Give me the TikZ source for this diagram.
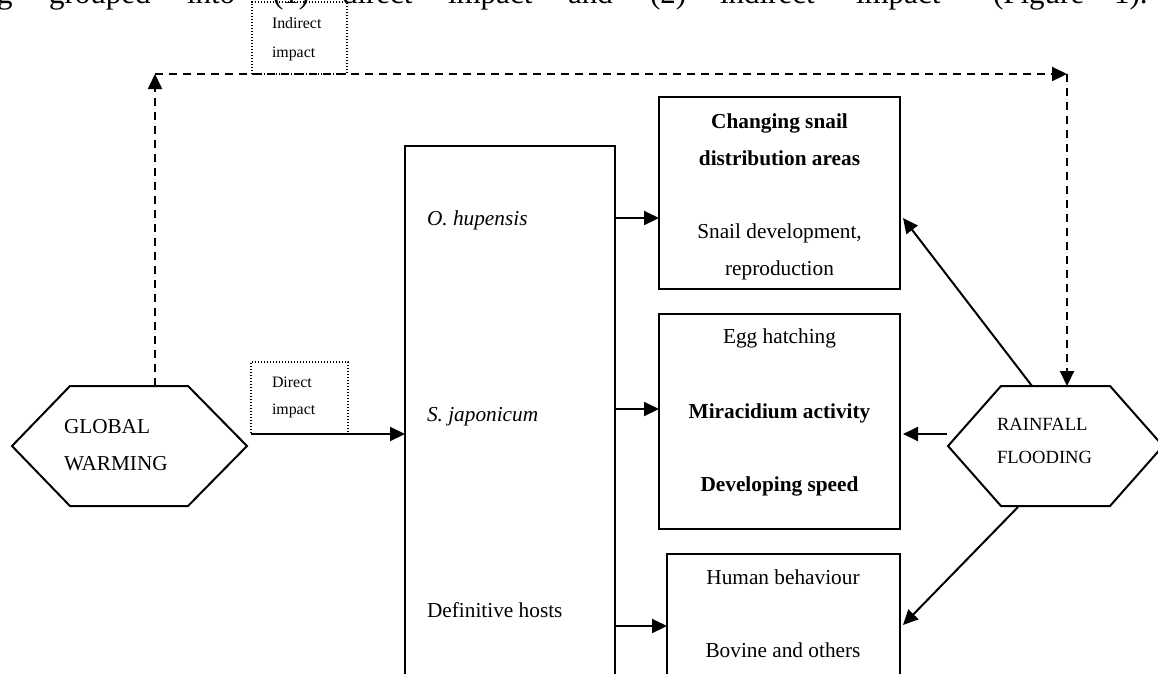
\documentclass[tikz,border=0pt]{standalone}
\usepackage{fontspec}
\setmainfont{Liberation Serif}
\usetikzlibrary{arrows.meta}
\tikzset{
  line/.style={line width=2pt, line join=miter},
  arr/.style={line width=2pt, -{Triangle[length=15pt,width=14pt]}},
  darr/.style={arr, dash pattern=on 8pt off 6pt},
  box/.style={draw, line width=2pt, rectangle, inner sep=0pt, outer sep=0pt},
  dotbox/.style={draw, line width=1.2pt, dash pattern=on 1.3pt off 1.7pt, rectangle, inner sep=0pt, outer sep=0pt},
  txt/.style={inner sep=0pt, outer sep=0pt, font=\fontsize{21.3pt}{26pt}\selectfont},
  btxt/.style={txt, font=\fontsize{21.3pt}{26pt}\selectfont\bfseries},
  itxt/.style={txt, font=\fontsize{21.3pt}{26pt}\selectfont\itshape},
  hextxt/.style={inner sep=0pt, outer sep=0pt, font=\fontsize{21.2pt}{26pt}\selectfont},
  rftxt/.style={inner sep=0pt, outer sep=0pt, font=\fontsize{18.6pt}{22pt}\selectfont},
  smtxt/.style={inner sep=0pt, outer sep=0pt, font=\fontsize{15.9pt}{19pt}\selectfont},
  toptxt/.style={inner sep=0pt, outer sep=0pt, anchor=base west, font=\fontsize{31pt}{35pt}\selectfont},
}
\begin{document}
\begin{tikzpicture}[x=1pt,y=-1pt]
\useasboundingbox (0,0) rectangle (1158,673);
\clip (0,0) rectangle (1158,673);
\fill[white] (0,0) rectangle (1158,673);

% cut-off line of justified body text at the top
\node[toptxt] (top0) at (-27,3) {ing};
\node[toptxt] (top1) at (49,3) {grouped};
\node[toptxt] (top2) at (187,3) {into};
\node[toptxt] (top3) at (273,3) {(1)};
\node[toptxt] (top4) at (342,3) {direct};
\node[toptxt] (top5) at (448,3) {impact};
\node[toptxt] (top6) at (568,3) {and};
\node[toptxt] (top7) at (650,3) {(2)};
\node[toptxt] (top8) at (720,3) {indirect};
\node[toptxt] (top9) at (856,3) {impact};
\node[toptxt] (top10) at (993,3) {(Figure};
\node[toptxt] (top11) at (1114,3) {1).};

% boxes
\node[box, minimum width=210pt, minimum height=574pt] (big) at (510,433) {};
\node[box, minimum width=241pt, minimum height=192pt] (b1) at (779.5,193) {};
\node[box, minimum width=241pt, minimum height=215pt] (b2) at (779.5,421.5) {};
\node[box, minimum width=233pt, minimum height=166pt] (b3) at (783.5,637) {};

% dotted label boxes
\node[dotbox, minimum width=95pt, minimum height=72pt] (ibox) at (299.5,38) {};
\node[dotbox, minimum width=97pt, minimum height=72pt] (dbox) at (299.5,398) {};
\node[smtxt, anchor=base west] (ib1) at (272,28) {Indirect};
\node[smtxt, anchor=base west] (ib2) at (272,57) {impact};
\node[smtxt, anchor=base west] (db1) at (272,387) {Direct};
\node[smtxt, anchor=base west] (db2) at (272,414) {impact};

% hexagons
\draw[line, fill=white] (12,446) -- (70,386) -- (188,386) -- (247,446) -- (188,506) -- (70,506) -- cycle;
\draw[line, fill=white] (948,446) -- (1001,386) -- (1110,386) -- (1163,446) -- (1110,506) -- (1001,506) -- cycle;
\node[hextxt, anchor=base west] (gw1) at (64,433) {GLOBAL};
\node[hextxt, anchor=base west] (gw2) at (64,470) {WARMING};
\node[rftxt, anchor=base west] (rf1) at (997,430) {RAINFALL};
\node[rftxt, anchor=base west] (rf2) at (997,463) {FLOODING};

% texts in the centre box
\node[itxt, anchor=base west] (hup) at (427,225) {O. hupensis};
\node[itxt, anchor=base west] (jap) at (427,421) {S. japonicum};
\node[txt, anchor=base west] (def) at (427,617) {Definitive hosts};

% texts in the right boxes
\node[btxt, anchor=base] (t1a) at (779.5,128) {Changing snail};
\node[btxt, anchor=base] (t1b) at (779.5,165) {distribution areas};
\node[txt, anchor=base] (t1c) at (779.5,238) {Snail development,};
\node[txt, anchor=base] (t1d) at (779.5,275) {reproduction};
\node[txt, anchor=base] (t2a) at (779.5,343) {Egg hatching};
\node[btxt, anchor=base] (t2b) at (779.5,418) {Miracidium activity};
\node[btxt, anchor=base] (t2c) at (779.5,491) {Developing speed};
\node[txt, anchor=base] (t3a) at (783,584) {Human behaviour};
\node[txt, anchor=base] (t3b) at (783,657) {Bovine and others};

% connector points
\coordinate (gwtop) at (155,386);
\coordinate (c1) at (155,74);
\coordinate (c2) at (1067,74);
\coordinate (rftop) at (1067,386);
\coordinate (rfa) at (1032,386);
\coordinate (rfl) at (947,434);
\coordinate (rfb) at (1018,507);
\coordinate (ya) at (0,218);
\coordinate (yb) at (0,409);
\coordinate (yc) at (0,626);
\coordinate (yd) at (0,434);
\coordinate (ye) at (0,625);

% indirect impact path
\draw[darr] (gwtop) -- (c1);
\draw[darr] (c1) -- (c2);
\draw[darr] (c2) -- (rftop);

% direct impact
\draw[arr] (dbox.south west) -- (dbox.south west -| big.west);

% centre to right boxes
\draw[arr] (big.east |- ya) -- (b1.west |- ya);
\draw[arr] (big.east |- yb) -- (b2.west |- yb);
\draw[arr] (big.east |- yc) -- (b3.west |- yc);

% rainfall to right boxes
\draw[arr] (rfa) -- ([xshift=3pt]b1.east |- ya);
\draw[arr] (rfl) -- ([xshift=3pt]b2.east |- yd);
\draw[arr] (rfb) -- ([xshift=3pt]b3.east |- ye);
\end{tikzpicture}
\end{document}
